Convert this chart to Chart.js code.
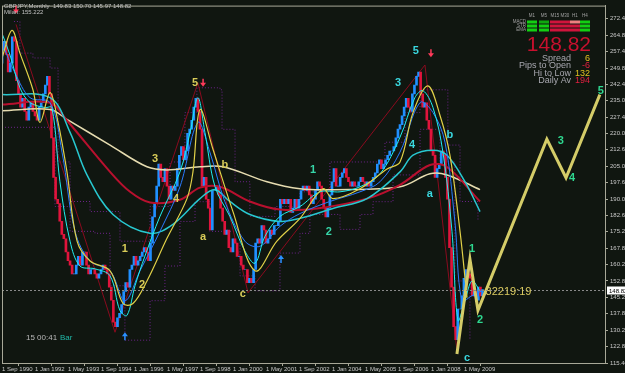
<!DOCTYPE html>
<html><head><meta charset="utf-8">
<script src="https://cdn.jsdelivr.net/npm/chart.js@4.4.0/dist/chart.umd.min.js"></script>
<style>html,body{margin:0;padding:0;background:#101610;overflow:hidden}canvas{display:block}</style>
</head><body>
<canvas id="c" width="625" height="373" style="width:625px;height:373px"></canvas>
<script>
// ---------- DATA ----------
// monthly closes, index 0 = Sep 1990
const firstOpen = 252;
const closes = [
 258,262,256,248,
 252,264,262,244,238,232,236,230,226,232,234,230,
 228,226,232,234,238,242,246,238,218,200,190,188,
 180,174,172,166,162,160,156,156,160,164,160,166,
 166,160,156,158,158,156,154,156,158,160,158,156,
 150,144,134,132,136,138,142,148,152,150,158,160,
 164,160,162,164,166,168,166,162,170,182,188,196,
 206,200,198,204,196,190,196,194,196,204,210,214,
 208,212,220,222,226,232,236,230,222,196,200,190,
 186,176,194,194,196,192,186,180,174,176,168,166,
 172,170,164,164,160,158,158,152,154,152,158,170,
 172,170,178,176,170,172,176,174,178,178,180,190,
 188,190,188,190,184,186,190,186,190,194,196,194,
 196,192,188,190,194,198,196,190,186,182,186,192,
 198,204,196,196,200,202,204,200,198,196,198,196,
 196,198,200,198,196,198,196,198,200,202,206,208,
 204,206,208,210,212,212,214,218,222,224,228,232,
 236,232,230,238,242,246,248,238,232,234,226,222,
 212,210,200,204,206,212,210,200,190,168,150,132,
 126,140,140,146,154,158,156,154,146,148,144,150,
 146,148.82
];
const lastPrice = 148.82;
const xTickMonths = [0,16,32,48,64,80,96,112,128,144,160,176,192,208,224];
const xTickLabels = ['1 Sep 1990','1 Jan 1992','1 May 1993','1 Sep 1994','1 Jan 1996','1 May 1997','1 Sep 1998','1 Jan 2000','1 May 2001','1 Sep 2002','1 Jan 2004','1 May 2005','1 Sep 2006','1 Jan 2008','1 May 2009'];
const yTicks = [272.40,264.80,257.40,249.80,242.40,235.00,227.40,220.00,212.60,205.00,197.60,190.00,182.60,175.20,167.80,160.20,152.80,145.20,137.80,130.20,122.80,115.40];

// moving averages [monthIndex, value]
const maLong = [[0,230.4],[23.3,230.9],[31.5,226.4],[52.4,214.7],[70.3,204.8],[80,203.4],[96,204.8],[107.2,204.8],[128.5,198.0],[144.5,194.8],[160.5,194.4],[193,195.7],[207.5,201.6],[215.8,201.1],[231.8,194.4]];
const maRed = [[0,233.15],[23.3,234.0],[31.5,225.9],[52.4,202.5],[62.1,193.4],[71.8,188.5],[86.3,189.8],[96,195.3],[105.7,195.7],[120.2,189.0],[134.8,185.3],[152.7,185.8],[177,190.3],[193,196.6],[207.5,205.6],[215.8,204.7],[231.8,189.0]];
const maSlowCyan = [[0,237.7],[23.3,236.3],[33,220.5],[41.2,201.1],[53.8,183.1],[71.8,174.5],[82.9,178.6],[96,190.3],[103.3,194.4],[110.5,189.0],[120.2,183.1],[134.8,179.9],[144.5,181.3],[160.5,185.8],[177,190.3],[193,202.5],[199.3,210.1],[209,212.4],[215.8,210.1],[224.5,198.0],[231.8,184.4]];
const maBlue = [[0,261.1],[6.3,247.6],[13.6,236.3],[23.3,234.0],[29.1,211.5],[35.4,175.4],[42.7,161.9],[52.4,157.4],[59.6,143.8],[66.9,157.4],[76.6,175.4],[86.3,195.7],[95,225.0],[100.8,211.5],[108.1,188.9],[117.8,170.9],[125.1,168.6],[134.8,177.7],[144.5,183.5],[159,189.0],[173.6,193.4],[183.3,198.0],[193,211.5],[202.7,234.1],[209,229.5],[214.8,216.0],[219.6,179.9],[223,143.8],[227.9,146.1],[232.7,148.3]];
const maFastCyan = [[0,265.6],[3.9,255.7],[8.7,240.8],[13.6,234.1],[20.8,231.8],[24.2,231.8],[28.1,198],[33,170.9],[37.8,159.6],[45.1,158.3],[52.4,155.1],[57.2,139.3],[60.6,137.1],[64.5,150.6],[69.3,164.1],[76.6,182.2],[86.3,202.5],[91.2,220.5],[95,236.3],[98.4,220.5],[103.3,195.7],[110.5,182.2],[117.8,166.4],[122.7,160.9],[127.5,173.1],[134.8,182.2],[144.5,186.7],[154.2,193.4],[163.9,193.4],[173.6,195.7],[183.3,201.6],[193,218.3],[200.2,236.3],[204.1,239.5],[209,231.8],[213.8,211.5],[218.2,175.4],[221.1,134.8],[224.5,143.8],[227.9,152.8],[231.8,148.3]];
const maYellow = [[0,254.4],[4.8,267.0],[8.7,256.6],[15.0,239.9],[18.4,225.0],[23.3,238.6],[27.2,225.0],[31.5,202.5],[36.4,170.9],[42.7,161.9],[52.4,157.4],[58.7,142.5],[63.5,142.5],[70.3,152.8],[80,172.2],[89.7,190.3],[92.6,202.5],[96,230.9],[102.3,212.8],[112,184.4],[122.7,157.4],[133.3,170.9],[144.5,181.3],[155.6,194.8],[160.5,190.3],[173.6,194.8],[186.7,203.8],[193,207.0],[199.3,229.5],[206.5,241.7],[212.4,228.2],[217.2,210.1],[222.1,175.4],[225.5,145.2]];
const zigzag = [[6.8,269.7],[54.8,129.4],[95,243.1],[119.3,147.4],[205.1,251.2],[220.6,121.3]];
const channelHigh = [[5.8,271.0],[8.7,256.6],[15.0,254.4],[23.3,249.8],[27.2,207.0],[33,189.0],[42.7,184.4],[57.2,170.9],[71.8,186.7],[81.5,207.0],[88.7,229.5],[94.5,240.8],[105.7,239.9],[106.7,221.9],[113,198.0],[120.2,182.2],[132.4,186.7],[144.5,193.4],[159,207.0],[173.6,207.0],[185.7,216.0],[195.4,229.5],[202.7,239.9],[215.8,239.9],[216.2,214.7],[222.1,189.0],[230.8,179.9]];
const channelLow = [[0,222.8],[18.4,222.8],[25.7,186.7],[33,175.4],[45.1,174.5],[52.4,150.6],[59.6,125.8],[71.8,143.8],[79,159.6],[86.3,179.9],[93.6,188.9],[100.8,175.4],[115.4,155.1],[122.7,148.3],[134.8,165.5],[144.5,174.5],[149.3,183.1],[163.9,176.3],[173.6,183.1],[179.9,188.9],[189.6,201.1],[202.7,221.9],[212.4,207.0],[219.6,152.8],[226.9,125.8]];
// Elliott projection
const waveProjection = [[220.6,119.5],[226.9,162.8],[230.8,139.4],[264.2,217.4],[273.5,199.8],[289.9,237.7]];
// wave labels [month, value, text, colour]
const waveLabels = [
 [93.6,243.1,'5','#d8cc58'],[74.2,208.3,'3','#d8cc58'],[84.4,190.3,'4','#d8cc58'],[59.6,167.3,'1','#d8cc58'],[67.9,151.0,'2','#d8cc58'],
 [97.5,172.7,'a','#d8cc58'],[108.1,205.6,'b','#d8cc58'],[116.8,147.0,'c','#d8cc58'],
 [200.7,257.5,'5','#3ad8e0'],[192,243.1,'3','#3ad8e0'],[198.8,214.7,'4','#3ad8e0'],[207.5,192.5,'a','#3ad8e0'],[217.2,219.2,'b','#3ad8e0'],[225.5,117.7,'c','#3ad8e0'],
 [150.8,203.4,'1','#36d6a8'],[158.5,174.9,'2','#36d6a8'],
 [227.9,167.3,'1','#2ed890'],[231.8,134.8,'2','#2ed890'],[271,216.5,'3','#2ed890'],[276.4,199.8,'4','#2ed890'],[290.4,239.5,'5','#2ed890']
];
const downArrows = [[6.8,276.5],[97.5,243.1],[208,256.6]];
const upArrows = [[59.6,127.6],[135.3,162.8]];
// info panel
const tfNames = ['M1','M5','M15','M30','H1','H4'];
const infoRows = [['Spread','6'],['Pips to Open','-6'],['Hi to Low','132'],['Daily Av','194']];

// ---------- CHART ----------
const UP='#2090ff', DOWN='#e0143c';
const candleData = closes.map((c,i)=>({x:i, y:[i?closes[i-1]:firstOpen, c]}));
const candleColors = closes.map((c,i)=> c >= (i?closes[i-1]:firstOpen) ? UP : DOWN);
const P = a => a.map(([x,y])=>({x,y}));
const lineDs = (data,color,w,extra) => Object.assign({type:'line', data:P(data), borderColor:color, borderWidth:w, pointRadius:0, fill:false, tension:0.35}, extra||{});

const overlay = {
 id:'overlay',
 beforeDraw(chart){
  const c=chart.ctx; c.save(); c.fillStyle='#101610'; c.fillRect(0,0,chart.width,chart.height); c.restore();
 },
 afterDatasetsDraw(chart){
  const c=chart.ctx, xs=chart.scales.x, ys=chart.scales.y, a=chart.chartArea;
  c.save();
  const py=Math.round(ys.getPixelForValue(lastPrice))+0.5;
  c.strokeStyle='#8a8a8a'; c.lineWidth=1; c.setLineDash([2,2]);
  c.beginPath(); c.moveTo(a.left,py); c.lineTo(a.right,py); c.stroke(); c.setLineDash([]);
  c.strokeStyle='#a8a898'; c.strokeRect(a.left+0.5,a.top+0.5,a.right-a.left,a.bottom-a.top);
  c.fillStyle='#ffffff'; c.fillRect(a.right+2,py-4,20,8);
  c.fillStyle='#000000'; c.font='6px "Liberation Sans"'; c.textBaseline='middle'; c.textAlign='left';
  c.fillText(lastPrice.toFixed(2),a.right+4,py+0.5);
  c.textAlign='center'; c.textBaseline='middle'; c.font='bold 11px "Liberation Sans"';
  waveLabels.forEach(([m,v,t,col])=>{c.fillStyle=col; c.fillText(t,xs.getPixelForValue(m),ys.getPixelForValue(v));});
  const arrow=(x,y,dir,col)=>{c.strokeStyle=col;c.fillStyle=col;c.lineWidth=1.5;
    c.beginPath();c.moveTo(x,y-4*dir);c.lineTo(x,y+1*dir);c.stroke();
    c.beginPath();c.moveTo(x-3,y);c.lineTo(x+3,y);c.lineTo(x,y+4*dir);c.closePath();c.fill();};
  downArrows.forEach(([m,v])=>arrow(xs.getPixelForValue(m),ys.getPixelForValue(v),1,'#ff3a5a'));
  upArrows.forEach(([m,v])=>arrow(xs.getPixelForValue(m),ys.getPixelForValue(v),-1,'#2a90ff'));
  c.textAlign='left'; c.font='11px "Liberation Sans"'; c.fillStyle='#d8c860';
  c.fillText('32219:19', xs.getPixelForValue(closes.length)+1, py+1);
  c.font='8px "Liberation Sans"'; c.fillStyle='#b8b8b8'; c.fillText('15 00:41',26,338);
  c.fillStyle='#20b8a8'; c.fillText('Bar',60,338);
  c.font='6px "Liberation Sans"'; c.fillStyle='#c0c0c0'; c.textBaseline='middle';
  c.fillText('GBPJPY,Monthly  149.83 150.70 145.97 148.82',4,6);
  c.fillText('Milan: 155.222',4,12);
  const cx=[532,544,555,565,575,585];
  c.font='4.5px "Liberation Sans"'; c.fillStyle='#a0a0a0'; c.textAlign='center';
  tfNames.forEach((t,i)=>c.fillText(t,cx[i],16));
  c.textAlign='right'; ['MACD','STR','EMA'].forEach((t,i)=>c.fillText(t,526,22+i*4));
  const cells=[['#12d012','#12d012','#12d012'],['#0fa80f','#12d012','#12d012'],['#d0143c','#d0143c','#d0143c'],['#d0143c','#d0143c','#d0143c'],['#f08080','#d0143c','#d0143c'],['#12d012','#12d012','#12d012']];
  cells.forEach((col,i)=>col.forEach((f,j)=>{c.fillStyle=f;c.fillRect(cx[i]-5,20.5+j*4,10,3);}));
  c.textAlign='right'; c.textBaseline='alphabetic'; c.font='21px "Liberation Sans"'; c.fillStyle='#c8102e';
  c.fillText(lastPrice.toFixed(2),591,51);
  const valCols=['#e0c020','#e02040','#e0c020','#e02040'];
  c.font='9px "Liberation Sans"';
  infoRows.forEach(([l,v],i)=>{const y=61+i*7.4;c.fillStyle='#a8a8b0';c.textAlign='right';c.fillText(l,571,y);c.fillStyle=valCols[i];c.fillText(v,590,y);});
  c.restore();
 }
};

new Chart(document.getElementById('c'),{
 type:'bar',
 data:{datasets:[
  lineDs(waveProjection,'#d4cc68',3,{tension:0,order:0}),
  lineDs(maYellow,'#e0d048',1.2,{order:1}),
  lineDs(maFastCyan,'#20f0f0',1,{order:2}),
  lineDs(maBlue,'#2a7cff',1,{order:3}),
  lineDs(maSlowCyan,'#28c8d0',1.5,{order:4}),
  lineDs(maRed,'#b8102e',2,{order:5}),
  lineDs(maLong,'#e6dcb0',1.5,{order:6}),
  {type:'bar', data:candleData, backgroundColor:candleColors, borderWidth:0, barThickness:2, grouped:false, order:7},
  lineDs(zigzag,'#8a0a1e',1,{tension:0,order:8}),
  lineDs(channelHigh,'rgba(140,40,180,0.75)',1,{tension:0,stepped:'before',borderDash:[1,2],order:9}),
  lineDs(channelLow,'rgba(140,40,180,0.75)',1,{tension:0,stepped:'before',borderDash:[1,2],order:9})
 ]},
 options:{
  responsive:false, animation:false, devicePixelRatio:1,
  layout:{padding:{left:2,top:2,right:0,bottom:0}},
  plugins:{legend:{display:false},tooltip:{enabled:false}},
  scales:{
   x:{type:'linear',min:0,max:292.4,offset:false,
      afterBuildTicks:s=>{s.ticks=xTickMonths.map(v=>({value:v}));},
      afterFit:s=>{s.height=10;},
      ticks:{callback:(v,i)=>xTickLabels[i],align:'start',color:'#c8c8c8',font:{family:'Liberation Sans',size:6},padding:0,maxRotation:0,autoSkip:false},
      grid:{drawOnChartArea:false,tickLength:3,color:'#a8a898'},border:{color:'#a8a898'}},
   y:{type:'linear',position:'right',min:115.4,max:278.26,
      afterBuildTicks:s=>{s.ticks=yTicks.map(v=>({value:v}));},
      afterFit:s=>{s.width=20;},
      ticks:{callback:v=>v.toFixed(2),color:'#c8c8c8',font:{family:'Liberation Sans',size:6},padding:2,autoSkip:false},
      grid:{drawOnChartArea:false,tickLength:3,color:'#a8a898'},border:{color:'#a8a898'}}
  }
 },
 plugins:[overlay]
});
</script>
</body></html>
